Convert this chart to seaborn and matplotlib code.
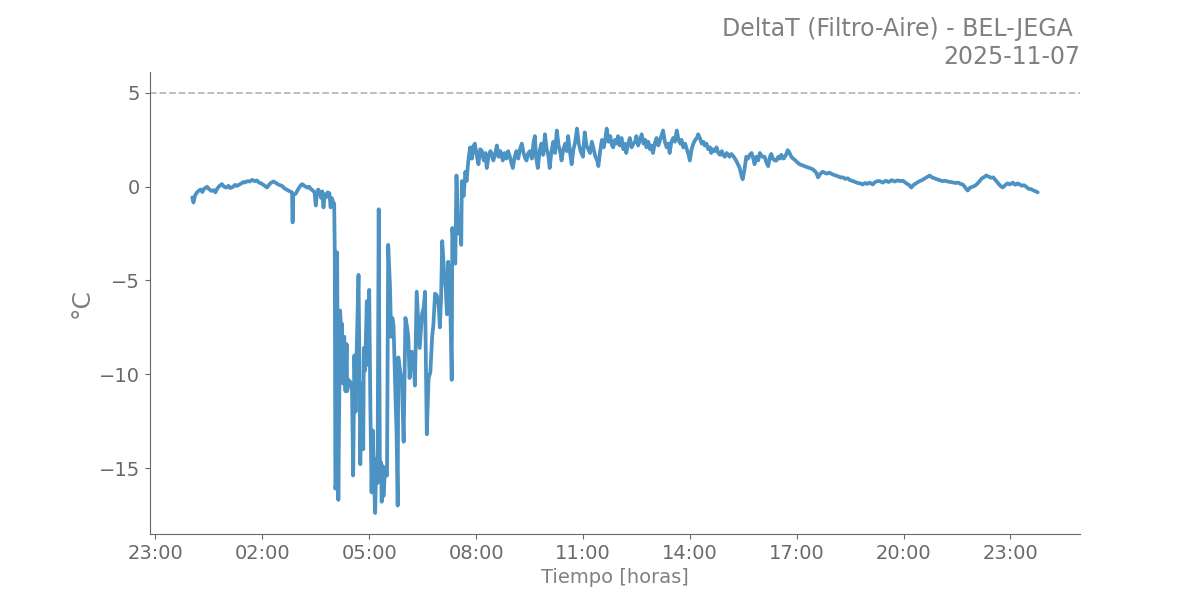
import pandas as pd
import matplotlib.pyplot as plt
import matplotlib.dates as mdates
import seaborn as sns

fecha = "2025-11-07"
titulo = "DeltaT (Filtro-Aire) - BEL-JEGA \n" + fecha
limite = 5

# Lecturas de DeltaT (°C) a lo largo del día
horas = [
    "00:02", "00:04", "00:07", "00:10", "00:13", "00:16", "00:19", "00:22", "00:25", "00:27",
    "00:30", "00:34", "00:38", "00:41", "00:44", "00:48", "00:52", "00:55", "00:59", "01:03",
    "01:06", "01:10", "01:14", "01:17", "01:20", "01:24", "01:28", "01:31", "01:35", "01:39",
    "01:43", "01:47", "01:51", "01:54", "01:58", "02:02", "02:05", "02:08", "02:11", "02:15",
    "02:19", "02:23", "02:27", "02:30", "02:33", "02:37", "02:41", "02:44", "02:47", "02:50",
    "02:51", "02:52", "02:56", "03:00", "03:04", "03:07", "03:09", "03:12", "03:16", "03:19",
    "03:21", "03:25", "03:28", "03:30", "03:32", "03:34", "03:37", "03:39", "03:41", "03:43",
    "03:45", "03:48", "03:50", "03:53", "03:55", "03:57", "03:59",
    "04:01", "04:02", "04:03", "04:05", "04:06", "04:08", "04:11", "04:13", "04:14", "04:16",
    "04:18", "04:20", "04:22", "04:23", "04:25", "04:28", "04:31", "04:33", "04:35", "04:37",
    "04:39", "04:42", "04:44", "04:45", "04:47", "04:50", "04:51", "04:53", "04:56", "04:58",
    "05:00", "05:02", "05:04", "05:06", "05:08", "05:10", "05:12", "05:14", "05:16", "05:18",
    "05:20", "05:21", "05:23", "05:24", "05:27", "05:30", "05:32", "05:35", "05:37", "05:39",
    "05:41", "05:44", "05:46", "05:48", "05:49", "05:52", "05:55", "05:58", "06:01", "06:04",
    "06:06", "06:08", "06:12", "06:15", "06:17", "06:20", "06:23", "06:25", "06:29", "06:32",
    "06:34", "06:37", "06:40", "06:43", "06:46", "06:48", "06:51", "06:54", "06:57", "06:59",
    "07:01", "07:03", "07:06", "07:09", "07:11", "07:13", "07:16", "07:19", "07:20", "07:22",
    "07:25", "07:27", "07:30", "07:33", "07:35", "07:36", "07:39", "07:42", "07:44", "07:47",
    "07:50", "07:53", "07:56", "07:58", "08:01", "08:04", "08:07", "08:10", "08:13", "08:16",
    "08:18", "08:21", "08:24", "08:26",
    "08:29", "08:32", "08:35", "08:38", "08:41", "08:45", "08:48", "08:51", "08:54", "08:57",
    "09:00", "09:02", "09:05", "09:08", "09:11", "09:14", "09:17", "09:20", "09:23", "09:25",
    "09:28", "09:31", "09:34", "09:37", "09:39", "09:41", "09:44", "09:47", "09:50", "09:53",
    "09:56", "09:59", "10:02", "10:04", "10:07", "10:10", "10:13", "10:16", "10:19", "10:22",
    "10:24", "10:27", "10:30", "10:33", "10:35", "10:38", "10:41", "10:44", "10:47", "10:50",
    "10:53", "10:56", "11:00", "11:03", "11:06", "11:09", "11:12", "11:15", "11:18", "11:21",
    "11:24", "11:26", "11:29", "11:32", "11:35", "11:38", "11:40", "11:43", "11:46", "11:49",
    "11:51", "11:54", "11:57", "11:59", "12:02", "12:05", "12:08", "12:10", "12:13", "12:16",
    "12:19", "12:22", "12:25", "12:28", "12:30", "12:33", "12:36", "12:39", "12:42", "12:45",
    "12:47", "12:50", "12:53", "12:55", "12:58", "13:01", "13:04", "13:07", "13:10", "13:13",
    "13:15", "13:18", "13:21", "13:24", "13:26", "13:29", "13:32", "13:35", "13:38", "13:41",
    "13:44", "13:46", "13:49", "13:52", "13:55", "13:58", "14:00", "14:03", "14:06", "14:09",
    "14:12", "14:14", "14:17", "14:20", "14:23", "14:25", "14:28", "14:31", "14:34", "14:36",
    "14:39", "14:42", "14:45", "14:48", "14:51", "14:54", "14:56", "14:59", "15:02", "15:05",
    "15:07",
    "15:10", "15:14", "15:18", "15:21", "15:24", "15:27", "15:29", "15:32", "15:35", "15:38",
    "15:41", "15:44", "15:47", "15:49", "15:52", "15:55", "15:58", "16:02", "16:06", "16:09",
    "16:12", "16:15", "16:17", "16:20", "16:23", "16:26", "16:29", "16:32", "16:34", "16:38",
    "16:42", "16:45", "16:48", "16:51", "16:54", "16:58", "17:01", "17:05", "17:09", "17:13",
    "17:17", "17:22", "17:26", "17:30", "17:33", "17:36", "17:40", "17:44", "17:47", "17:51",
    "17:55", "18:01", "18:06", "18:10", "18:14", "18:18", "18:22", "18:26", "18:30", "18:35",
    "18:39", "18:43", "18:47", "18:51", "18:55", "18:59", "19:03", "19:08", "19:12", "19:16",
    "19:20", "19:25", "19:30", "19:35", "19:40", "19:45", "19:50", "19:55", "19:59", "20:04",
    "20:09", "20:13", "20:17", "20:22", "20:27", "20:31", "20:36", "20:40", "20:44", "20:48",
    "20:52", "20:56", "21:00", "21:05", "21:10", "21:14", "21:19", "21:23", "21:28", "21:32",
    "21:36", "21:40", "21:44", "21:48", "21:52", "21:56", "22:00", "22:04", "22:08", "22:12",
    "22:16", "22:19", "22:23", "22:27", "22:31", "22:35", "22:39", "22:43", "22:47", "22:51",
    "22:55", "22:59", "23:04", "23:08", "23:12", "23:15", "23:19", "23:23", "23:26", "23:30",
    "23:35", "23:39", "23:43", "23:46",
]

delta_t = [
    -0.57, -0.84, -0.45, -0.30, -0.21, -0.15, -0.28, -0.10, -0.05, 0.00,
    -0.12, -0.22, -0.18, -0.30, -0.10, 0.05, 0.14, 0.02, -0.05, 0.05,
    -0.07, -0.02, 0.10, 0.04, 0.10, 0.16, 0.25, 0.23, 0.30, 0.28,
    0.37, 0.30, 0.33, 0.23, 0.18, 0.10, 0.02, -0.04, 0.10, 0.22,
    0.28, 0.20, 0.12, 0.08, 0.05, -0.08, -0.15, -0.21, -0.25, -0.30,
    -1.90, -0.45, -0.38, -0.15, 0.05, 0.14, 0.10, 0.02, -0.05, 0.00,
    -0.10, -0.20, -0.30, -1.00, -0.35, -0.15, -0.30, -0.60, -0.25, -1.10,
    -0.40, -0.55, -0.30, -0.35, -1.10, -0.60, -0.80,
    -0.9, -3.4, -16.1, -15.6, -3.5, -16.7, -6.6, -7.8, -7.3, -10.5,
    -8.0, -10.9, -8.4, -10.9, -10.3, -10.4, -10.8, -15.4, -9.0, -12.0,
    -8.6, -4.7, -11.0, -14.8, -10.5, -14.0, -8.6, -9.8, -6.1, -9.5,
    -5.5, -11.8, -16.3, -13.0, -15.5, -17.4, -14.5, -15.8, -1.2, -15.2,
    -14.7, -16.8, -14.9, -16.5, -15.0, -15.4, -3.1, -5.3, -8.0, -7.0,
    -7.4, -10.9, -13.0, -17.0, -9.1, -9.8, -10.4, -13.6, -7.0, -7.5,
    -8.1, -10.2, -8.8, -9.4, -10.6, -5.6, -7.4, -8.6, -6.8, -6.4,
    -5.6, -13.2, -10.2, -9.9, -8.0, -7.4, -5.7, -5.8, -6.3, -7.5,
    -6.0, -2.9, -4.5, -5.5, -6.8, -4.0, -5.4, -10.3, -2.2, -3.0,
    -4.1, 0.6, -2.5, -1.8, -3.1, 0.3, -0.5, 0.8, 0.3, 1.4,
    2.1, 1.5, 2.2, 2.3, 1.7, 1.2, 2.0, 1.9, 1.4, 1.8,
    1.0, 1.6, 1.9, 1.8,
    1.4, 1.7, 2.2, 1.6, 1.9, 1.4, 1.8, 1.5, 1.9, 1.6,
    1.2, 1.0, 1.6, 1.9, 1.5, 2.0, 2.3, 1.8, 1.5, 1.4,
    1.8, 1.9, 1.5, 2.4, 2.7, 1.6, 1.0, 1.9, 2.3, 1.7,
    2.8, 2.0, 1.6, 1.0, 1.9, 2.4, 1.8, 3.0, 2.2, 1.8,
    1.4, 2.0, 2.3, 1.9, 2.7, 1.9, 1.2, 2.0, 2.4, 3.1,
    2.3, 1.9, 1.6, 2.9, 2.2, 2.0, 1.8, 2.4, 2.0, 1.6,
    1.4, 1.1, 1.9, 2.5, 2.1, 2.6, 3.1, 2.4, 2.7, 2.2,
    2.1, 2.5, 2.3, 2.7, 2.2, 2.6, 2.0, 2.3, 1.8, 2.3,
    2.6, 2.1, 2.3, 2.4, 2.7, 2.2, 2.5, 2.8, 2.3, 2.5,
    2.1, 2.4, 2.0, 2.2, 1.8, 2.3, 2.6, 2.2, 2.5, 2.8,
    3.0, 2.4, 2.1, 2.3, 1.8, 2.4, 2.6, 2.4, 3.0, 2.5,
    2.3, 2.5, 2.1, 2.3, 2.0, 1.7, 1.4, 2.0, 2.3, 2.5,
    2.6, 2.8, 2.6, 2.3, 2.4, 2.2, 2.3, 2.0, 2.1, 1.8,
    2.0, 1.9, 2.1, 1.8, 1.7, 1.9, 1.7, 1.6, 1.8, 1.7,
    1.6,
    1.75, 1.6, 1.4, 1.2, 1.0, 0.6, 0.4, 0.9, 1.6, 1.5,
    1.7, 1.8, 1.5, 1.2, 1.6, 1.4, 1.8, 1.6, 1.6, 1.3,
    1.1, 1.6, 1.75, 1.5, 1.4, 1.4, 1.6, 1.5, 1.7, 1.5,
    1.7, 1.95, 1.8, 1.6, 1.5, 1.4, 1.3, 1.2, 1.15, 1.1,
    1.05, 1.0, 0.95, 0.85, 0.75, 0.5, 0.7, 0.8, 0.75, 0.7,
    0.75, 0.65, 0.6, 0.55, 0.5, 0.5, 0.42, 0.45, 0.35, 0.3,
    0.25, 0.2, 0.18, 0.12, 0.2, 0.15, 0.22, 0.12, 0.25, 0.3,
    0.3, 0.22, 0.32, 0.25, 0.35, 0.28, 0.34, 0.3, 0.32, 0.2,
    0.1, -0.04, 0.1, 0.2, 0.3, 0.35, 0.45, 0.52, 0.6, 0.5,
    0.45, 0.4, 0.36, 0.3, 0.32, 0.28, 0.25, 0.23, 0.2, 0.22,
    0.15, 0.12, -0.05, -0.2, -0.05, 0.0, 0.05, 0.15, 0.3, 0.45,
    0.52, 0.6, 0.55, 0.48, 0.5, 0.35, 0.2, 0.05, -0.04, 0.08,
    0.18, 0.12, 0.22, 0.1, 0.18, 0.14, 0.05, 0.08, 0.02, -0.1,
    -0.13, -0.2, -0.25, -0.3,
]

df = pd.DataFrame({
    "tiempo": pd.to_datetime([fecha + " " + h for h in horas]),
    "delta_t": delta_t,
})

sns.set_style("ticks")

fig, ax = plt.subplots(figsize=(12, 6))
sns.lineplot(data=df, x="tiempo", y="delta_t", color="tab:blue", alpha=0.8, linewidth=2.7, ax=ax)
ax.axhline(limite, color="#b8b8b8", linestyle="--", linewidth=1.3)

# ejes y etiquetas
ax.xaxis.set_major_locator(mdates.HourLocator(byhour=[23, 2, 5, 8, 11, 14, 17, 20]))
ax.xaxis.set_major_formatter(mdates.DateFormatter("%H:%M"))
ax.set_xlabel("Tiempo [horas]", fontsize=14, color="gray")
ax.set_ylabel("°C", fontsize=18, color="gray")
ax.set_title(titulo, loc="right", fontsize=17, color="gray")
ax.tick_params(axis="both", labelsize=14, colors="dimgray")
for lado in ["left", "bottom"]:
    ax.spines[lado].set_color("dimgray")
sns.despine(ax=ax)

fig.savefig("out.png", dpi=100)
plt.close()
